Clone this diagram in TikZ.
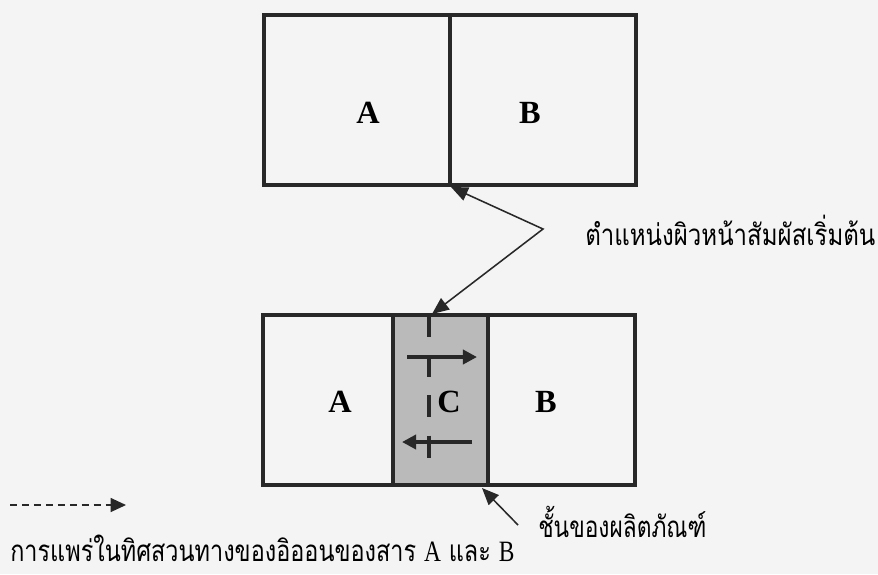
\documentclass[tikz,border=0pt]{standalone}
\usepackage{fontspec}
\setmainfont{Liberation Serif}
\newfontfamily\thaifont[Script=Thai]{Loma}
\usepackage{graphicx}
\usepackage{tikz}
\usetikzlibrary{arrows.meta, positioning}
\usepackage{xcolor}
\definecolor{paper}{RGB}{244,244,244}
\definecolor{layergray}{RGB}{186,186,186}
\definecolor{inkdark}{RGB}{40,40,40}

\tikzset{
    frame/.style={draw=inkdark, line width=2.9pt},
    letter/.style={font=\fontsize{23}{26}\selectfont\bfseries, inner sep=0pt},
    thailabel/.style={font=\thaifont\fontsize{21}{24}\selectfont, inner sep=0pt, anchor=base west},
    pointer/.style={draw=inkdark, line width=1.1pt},
    flow/.style={draw=inkdark, line width=2.9pt, -{Triangle[length=10pt,width=10pt]}}
}

\begin{document}
\begin{tikzpicture}[x=0.025cm, y=-0.025cm]
        % Cadre
        \fill[paper] (0,0) rectangle (878,574);
        \useasboundingbox (0,0) rectangle (878,574);

        % --- Avant : A et B au contact ---
        \draw[frame] (264,15) rectangle (450,185);
        \draw[frame] (450,15) rectangle (636,185);
        \node[letter] (topA) at (368,113) {A};
        \node[letter] (topB) at (530,113) {B};

        % --- Après : couche C entre A et B ---
        \fill[layergray] (393,315) rectangle (488,485);
        \draw[frame] (263,315) rectangle (393,485);
        \draw[frame] (393,315) rectangle (488,485);
        \draw[frame] (488,315) rectangle (635,485);
        \node[letter] (botA) at (340,402) {A};
        \node[letter] (botC) at (449,402) {C};
        \node[letter] (botB) at (546,402) {B};

        % interface initiale (tirets)
        \draw[inkdark, line width=2.9pt, dash pattern=on 15.6pt off 13pt] (429,315) -- (429,464);

        % diffusion des ions
        \coordinate (goR0) at (407,357);
        \coordinate (goR1) at (477,357);
        \coordinate (goL0) at (472,442);
        \coordinate (goL1) at (402,442);
        \draw[flow] (goR0) -- (goR1);
        \draw[flow] (goL0) -- (goL1);

        % --- Repères et étiquettes ---
        \coordinate (faceTop) at (451,187);
        \coordinate (kink) at (543,229);
        \coordinate (faceBot) at (432,314);
        \draw[pointer, {Triangle[length=12pt,width=10pt]}-{Triangle[length=12pt,width=10pt]}]
            (faceTop) -- (kink) -- (faceBot);
        \node[thailabel] (faceLabel) at (585,245) {\resizebox{7.25cm}{\height}{ตำแหน่งผิวหน้าสัมผัสเริ่มต้น}};

        \coordinate (layerTip) at (482,488);
        \coordinate (layerTail) at (518,525);
        \draw[pointer, -{Triangle[length=12pt,width=10pt]}] (layerTail) -- (layerTip);
        \node[thailabel] (layerLabel) at (538,537) {\resizebox{4.2cm}{\height}{ชั้นของผลิตภัณฑ์}};

        % légende
        \coordinate (keyStart) at (10,505);
        \coordinate (keyEnd) at (126,505);
        \draw[inkdark, line width=1pt, dash pattern=on 5pt off 3.5pt,
              -{Triangle[length=11pt,width=10pt]}] (keyStart) -- (keyEnd);
        \node[thailabel] (keyLabel) at (10,561) {\resizebox{12.6cm}{\height}{การแพร่ในทิศสวนทางของอิออนของสาร {\rmfamily A} และ {\rmfamily B}}};
    \end{tikzpicture}
\end{document}
